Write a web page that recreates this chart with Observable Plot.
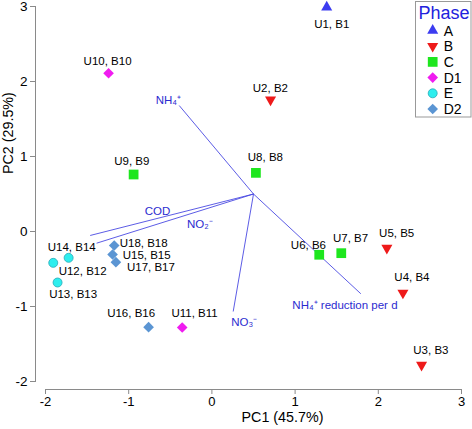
<!DOCTYPE html>
<html>
<head>
<meta charset="utf-8">
<script src="https://cdn.jsdelivr.net/npm/d3@7"></script>
<script src="https://cdn.jsdelivr.net/npm/@observablehq/plot@0.6"></script>
<style>
  html, body { margin: 0; padding: 0; background: #fff; }
  #wrap { position: relative; width: 472px; height: 429px; font-family: "Liberation Sans", Arial, sans-serif; }
  #legend { position: absolute; left: 415px; top: 1px; }
</style>
</head>
<body>
<div id="wrap"></div>
<script>
// ---- data ----
const sampleIds = ["U1, B1","U2, B2","U3, B3","U4, B4","U5, B5","U6, B6","U7, B7","U8, B8","U9, B9",
  "U10, B10","U11, B11","U12, B12","U13, B13","U14, B14","U15, B15","U16, B16","U17, B17","U18, B18"];
const samplePhase = ["A","B","B","B","B","C","C","C","C","D1","D1","E","E","E","D2","D2","D2","D2"];
const pc1 = [1.38, 0.705, 2.52, 2.296, 2.103, 1.29, 1.555, 0.529, -0.941, -1.242, -0.357, -1.907, -1.855, -1.722, -1.194, -0.761, -1.154, -1.174];
const pc2 = [2.99, 1.756, -1.78, -0.818, -0.22, -0.31, -0.289, 0.782, 0.76, 2.11, -1.28, -0.418, -0.68, -0.351, -0.307, -1.276, -0.409, -0.187];
const labelPc1 = [1.44, 0.703, 2.632, 2.404, 2.221, 1.16, 1.667, 0.643, -0.962, -1.254, -0.208, -1.554, -1.668, -1.685, -0.784, -0.971, -0.733, -0.82];
const labelPc2 = [2.76, 1.907, -1.587, -0.613, -0.023, -0.187, -0.093, 0.987, 0.933, 2.271, -1.097, -0.529, -0.836, -0.217, -0.311, -1.097, -0.476, -0.156];

const vecNames = ["NH₄⁺", "COD", "NO₂⁻", "NO₃⁻", "NH₄⁺ reduction per d"];
const vecOrigin = [0.5, 0.5];
const vecEndPc1 = [-0.393, -1.463, -1.386, 0.256, 1.79];
const vecEndPc2 = [1.68, -0.053, -0.156, -1.067, -0.83];
const vecLabelPc1 = [-0.523, -0.653, -0.144, 0.389, 1.599];
const vecLabelPc2 = [1.747, 0.27, 0.093, -1.209, -0.987];

const phases = ["A","B","C","D1","E","D2"];
const xTicks = [-2, -1, 0, 1, 2, 3];
const yTicks = [-2, -1, 0, 1, 2, 3];
const xTitle = "PC1 (45.7%)";
const yTitle = "PC2 (29.5%)";
const legendTitle = "Phase";

// ---- styles ----
const phaseStyle = {
  A:  {fill: "#3c3cf0", symbol: "triangle", r: 4.1, rotate: 0, stroke: "none"},
  B:  {fill: "#ee1a1a", symbol: "triangle", r: 4.1, rotate: 180, stroke: "none"},
  C:  {fill: "#1ee61e", symbol: "square", r: 5.5, rotate: 0, stroke: "none"},
  D1: {fill: "#f01cf0", symbol: "diamond2", r: 4.8, rotate: 0, stroke: "none"},
  E:  {fill: "#2eeeee", symbol: "circle", r: 4.5, rotate: 0, stroke: "#27a9b8"},
  D2: {fill: "#5b95d3", symbol: "diamond2", r: 4.8, rotate: 0, stroke: "none"}
};
const font = "Liberation Sans, Arial, sans-serif";
const vecColor = "#4a4ae2";
const vecTextColor = "#2b2bd0";
const axisGray = "#8a8a8a";

const samples = sampleIds.map((id, i) => ({id, phase: samplePhase[i], x: pc1[i], y: pc2[i], lx: labelPc1[i], ly: labelPc2[i]}));
const vectors = vecNames.map((name, i) => ({name, x1: vecOrigin[0], y1: vecOrigin[1], x2: vecEndPc1[i], y2: vecEndPc2[i], lx: vecLabelPc1[i], ly: vecLabelPc2[i]}));

const axisLines = (index, scales, values, dims) => {
  const g = d3.create("svg:g").attr("stroke", axisGray).attr("stroke-width", 1);
  const yb = dims.height - dims.marginBottom + 0.5;
  const xl = dims.marginLeft - 0.5;
  g.append("line").attr("x1", scales.x(d3.min(xTicks))).attr("x2", scales.x(d3.max(xTicks))).attr("y1", yb).attr("y2", yb);
  g.append("line").attr("x1", xl).attr("x2", xl).attr("y1", scales.y(d3.min(yTicks))).attr("y2", scales.y(d3.max(yTicks)));
  return g.node();
};

const chart = Plot.plot({
  width: 472,
  height: 429,
  marginLeft: 36,
  marginBottom: 40,
  marginTop: 0,
  marginRight: 0,
  style: {fontFamily: font, background: "white", overflow: "visible"},
  x: {domain: [-2, 3], range: [45, 461]},
  y: {domain: [-2, 3], range: [381, 6]},
  marks: [
    axisLines,
    Plot.axisX(xTicks, {tickSize: 5, tickPadding: 2, fontSize: 13, stroke: axisGray, fill: "black", label: null, tickFormat: d => String(d).replace("−", "-")}),
    Plot.axisY(yTicks, {tickSize: 6, tickPadding: 3, fontSize: 13.5, stroke: axisGray, fill: "black", label: null, tickFormat: d => String(d)}),
    Plot.text([xTitle], {frameAnchor: "bottom", text: d => d, dx: 28, dy: 32, fontSize: 14.3, fill: "black"}),
    Plot.text([yTitle], {frameAnchor: "left", text: d => d, rotate: -90, dx: -28, dy: -21, fontSize: 14.3, fill: "black"}),
    Plot.link(vectors, {x1: "x1", y1: "y1", x2: "x2", y2: "y2", stroke: vecColor, strokeWidth: 0.9}),
    Plot.text(vectors, {x: "lx", y: "ly", text: "name", fill: vecTextColor, fontSize: 11.5}),
    ...phases.map(p => Plot.dot(samples.filter(d => d.phase === p), {
      x: "x", y: "y", symbol: phaseStyle[p].symbol, r: phaseStyle[p].r, rotate: phaseStyle[p].rotate,
      fill: phaseStyle[p].fill, stroke: phaseStyle[p].stroke, strokeWidth: 0.8
    })),
    Plot.text(samples, {x: "lx", y: "ly", text: "id", fill: "black", fontSize: 11.5})
  ]
});

const wrap = document.getElementById("wrap");
wrap.appendChild(chart);

// ---- legend ----
const lg = d3.select(wrap).append("svg").attr("id", "legend").attr("width", 57).attr("height", 118)
  .style("font-family", font);
lg.append("rect").attr("x", 0.5).attr("y", 0.5).attr("width", 55.5).attr("height", 115.5)
  .attr("fill", "white").attr("stroke", "#999").attr("stroke-width", 1);
lg.append("text").attr("x", 29).attr("y", 18).attr("text-anchor", "middle")
  .attr("font-size", 18).attr("fill", "#2222dd").text(legendTitle);
const symbolMap = {triangle: d3.symbolTriangle, square: d3.symbolSquare, diamond2: d3.symbolDiamond2, circle: d3.symbolCircle};
phases.forEach((p, i) => {
  const s = phaseStyle[p];
  const cy = 29.5 + 15.7 * i;
  lg.append("path")
    .attr("d", d3.symbol(symbolMap[s.symbol], Math.PI * s.r * s.r)())
    .attr("transform", `translate(17.7,${cy}) rotate(${s.rotate})`)
    .attr("fill", s.fill).attr("stroke", s.stroke).attr("stroke-width", 0.8);
  lg.append("text").attr("x", 28.7).attr("y", cy + 5).attr("font-size", 14).attr("fill", "black").text(p);
});
</script>
</body>
</html>
